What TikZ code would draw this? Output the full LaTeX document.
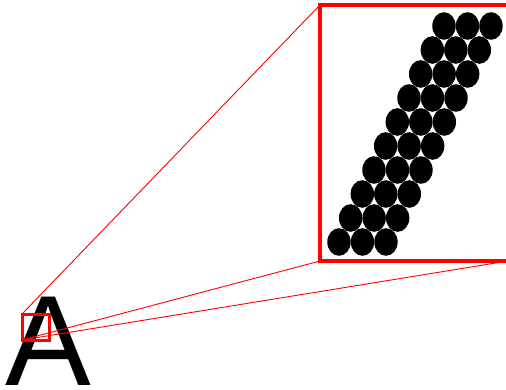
\documentclass[tikz,border=0pt]{standalone}
\usepackage{fontspec}
\setmainfont{Liberation Sans}
\begin{document}
\begin{tikzpicture}[x=1pt,y=-1pt,
  zoombox/.style={draw=red, fill=none, inner sep=0pt, outer sep=0pt, rectangle},
  link/.style={draw=red, line width=0.9pt},
  dot/.style={fill=black, draw=none}]
\useasboundingbox (0,0) rectangle (506,390);
% letter
\node[anchor=base west, inner sep=0pt, outer sep=0pt, text depth=0pt] (letter) at (5.5,385.5)
  {\fontsize{128.5}{130}\selectfont A};
% dots in the magnified view
\foreach \i in {0,...,9}{
  \foreach \j in {0,1,2}{
    \fill[dot] ({444-11.67*\i+23.5*\j},{26+24*\i}) ellipse [x radius=11.7, y radius=13.8];
  }
}
% boxes
\node[zoombox, line width=3pt, minimum width=27pt, minimum height=26pt] (small) at (35.5,327) {};
\node[zoombox, line width=3.3pt, minimum width=188pt, minimum height=256pt] (big) at (414,133) {};
% connectors
\draw[link] (small.north west) -- (big.north west);
\draw[link] (small.south west) -- (big.south west);
\draw[link] (small.south west) -- (big.south east);
\end{tikzpicture}
\end{document}
